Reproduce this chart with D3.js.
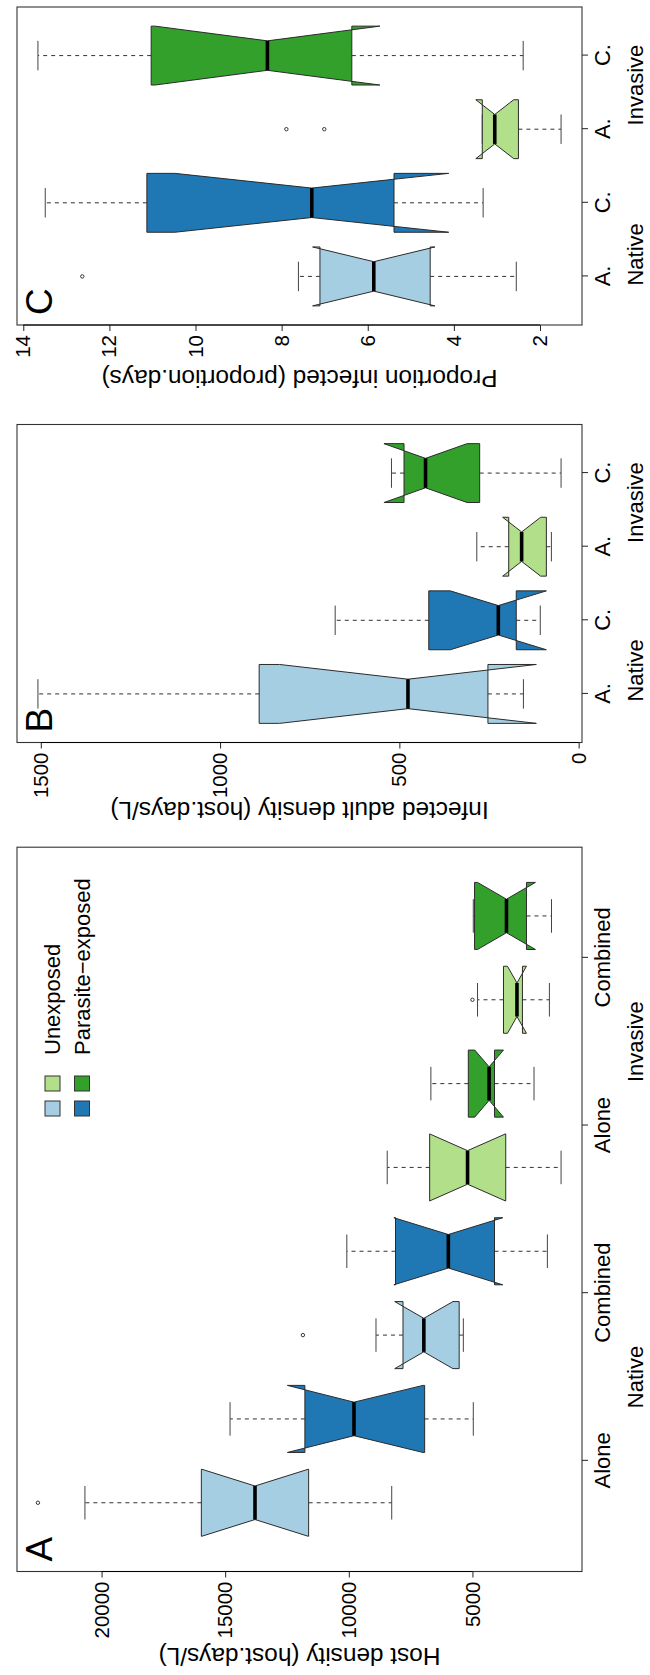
<!DOCTYPE html>
<html>
<head>
<meta charset="utf-8">
<script src="https://cdn.jsdelivr.net/npm/d3@7"></script>
<style>
  body { margin: 0; background: #fff; }
  svg { display: block; }
</style>
</head>
<body>
<svg id="chart" width="650" height="1675"></svg>
<script>
// ---------- Panel A: host density (host.days/L) ----------
const aTickLabels = ["Alone", "Combined", "Alone", "Combined"];
const aGroups = ["Native", "Invasive"];
const aTicks = [5000, 10000, 15000, 20000];
const aLow     = [8265, 4966, 5369, 1970, 1416, 2510, 1888, 1803];
const aQ1      = [11625, 6933, 5537, 4108, 3654, 4108, 2978, 2816];
const aNotchLo = [11640, 7000, 5788, 3773, 3664, 3745, 2816, 2453];
const aMedian  = [13794, 9791, 6966, 5975, 5198, 4326, 3200, 3624];
const aNotchHi = [15948, 12483, 8144, 8177, 6732, 4907, 3584, 4795];
const aQ3      = [15964, 11777, 7809, 8112, 6731, 5168, 3745, 4915];
const aHigh    = [20672, 14803, 8901, 10081, 8447, 6681, 4794, 4966];
const aOut     = [[22573], [], [11857], [], [], [], [5000], []];

// ---------- Panel B: infected adult density (host.days/L) ----------
const bTickLabels = ["A.", "C.", "A.", "C."];
const bGroups = ["Native", "Invasive"];
const bTicks = [0, 500, 1000, 1500];
const bLow     = [154, 107, 76, 49];
const bQ1      = [253, 174, 90, 276];
const bNotchLo = [118, 90, 106, 311];
const bMedian  = [476, 224, 159, 427];
const bNotchHi = [834, 358, 212, 543];
const bQ3      = [891, 418, 195, 487];
const bHigh    = [1508, 679, 284, 522];
const bOut     = [[], [], [], []];

// ---------- Panel C: proportion infected (proportion.days) ----------
const cTickLabels = ["A.", "C.", "A.", "C."];
const cGroups = ["Native", "Invasive"];
const cTicks = [2, 4, 6, 8, 10, 12, 14];
const cLow     = [2.55, 3.32, 1.51, 2.39];
const cQ1      = [4.55, 5.39, 2.50, 6.37];
const cNotchLo = [4.44, 4.12, 2.61, 5.72];
const cMedian  = [5.86, 7.30, 3.05, 8.33];
const cNotchHi = [7.28, 10.48, 3.49, 10.94];
const cQ3      = [7.11, 11.13, 3.34, 11.03];
const cHigh    = [7.61, 13.49, 3.34, 13.66];
const cOut     = [[12.63], [], [7.89, 7.01], []];

// Legend entries and fills (Paired palette)
const legendLabels = ["Unexposed", "Parasite\u2212exposed"];
const lightBlue = "#A6CEE3", darkBlue = "#1F78B4", lightGreen = "#B2DF8A", darkGreen = "#33A02C";

const FONT = '"Liberation Sans", Arial, Helvetica, sans-serif';
const PAGE_H = 1675;
const plotTop = 17, plotBottom = 582;

const svg = d3.select("#chart");
svg.append("rect").attr("width", 650).attr("height", PAGE_H).attr("fill", "#fff");

// The figure is laid out in landscape and turned a quarter turn onto the page.
const fig = svg.append("g")
  .attr("transform", `translate(0,${PAGE_H}) rotate(-90)`)
  .style("font-family", FONT);

function drawPanel(p) {
  const n = p.median.length;
  const g = fig.append("g");

  // positions 1..n, with the usual 4% padding around the [0.5, n + 0.5] range
  const xpad = 0.04 * n;
  const x = d3.scaleLinear().domain([0.5 - xpad, n + 0.5 + xpad]).range([p.left, p.right]);

  const allVals = [...p.low, ...p.high, ...p.notchLo, ...p.notchHi, ...p.out.flat()];
  const [lo, hi] = d3.extent(allVals);
  const ypad = (hi - lo) * 0.04;
  const y = d3.scaleLinear().domain([lo - ypad, hi + ypad]).range([plotBottom, plotTop]);

  const hw = 0.4, nf = 0.5, staple = 0.2;
  const line = d3.line().x(d => x(d[0])).y(d => y(d[1]));

  p.median.forEach((m, i) => {
    const c = i + 1;
    const q1 = p.q1[i], q3 = p.q3[i], nLo = p.notchLo[i], nHi = p.notchHi[i];
    const pts = [
      [c - hw, q1], [c + hw, q1], [c + hw, nLo], [c + hw * nf, m], [c + hw, nHi],
      [c + hw, q3], [c - hw, q3], [c - hw, nHi], [c - hw * nf, m], [c - hw, nLo]
    ];
    g.append("path")
      .attr("d", line(pts) + "Z")
      .attr("fill", p.fills[i])
      .attr("stroke", "#2b2b2b")
      .attr("stroke-width", 1)
      .attr("stroke-linejoin", "miter");

    g.append("line")
      .attr("x1", x(c - hw * nf)).attr("x2", x(c + hw * nf))
      .attr("y1", y(m)).attr("y2", y(m))
      .attr("stroke", "#000").attr("stroke-width", 3.6);

    // whiskers
    [[q3, p.high[i]], [q1, p.low[i]]].forEach(([from, to]) => {
      if (from !== to) {
        g.append("line")
          .attr("x1", x(c)).attr("x2", x(c))
          .attr("y1", y(from)).attr("y2", y(to))
          .attr("stroke", "#333").attr("stroke-width", 1)
          .attr("stroke-dasharray", "4,4");
      }
      g.append("line")
        .attr("x1", x(c - staple)).attr("x2", x(c + staple))
        .attr("y1", y(to)).attr("y2", y(to))
        .attr("stroke", "#444").attr("stroke-width", 1);
    });

    p.out[i].forEach(v => {
      g.append("circle")
        .attr("cx", x(c)).attr("cy", y(v)).attr("r", 1.7)
        .attr("fill", "none").attr("stroke", "#222").attr("stroke-width", 0.9);
    });
  });

  // frame
  g.append("rect")
    .attr("x", p.left).attr("y", plotTop)
    .attr("width", p.right - p.left).attr("height", plotBottom - plotTop)
    .attr("fill", "none").attr("stroke", "#333").attr("stroke-width", 1.1);

  // value axis
  const yAxis = g.append("g")
    .attr("transform", `translate(${p.left},0)`)
    .call(d3.axisLeft(y).tickValues(p.ticks).tickFormat(d3.format("d"))
      .tickSize(6).tickSizeOuter(0).tickPadding(4));
  yAxis.select(".domain").remove();
  yAxis.append("line")
    .attr("y1", y(p.ticks[0])).attr("y2", y(p.ticks[p.ticks.length - 1]))
    .attr("stroke", "#000").attr("stroke-width", 1);
  yAxis.selectAll(".tick line").attr("stroke", "#222");
  yAxis.selectAll(".tick text")
    .attr("font-family", FONT).attr("font-size", 20.5).attr("fill", "#000");

  // category axis
  const xAxis = g.append("g")
    .attr("transform", `translate(0,${plotBottom})`)
    .call(d3.axisBottom(x).tickValues(p.tickAt).tickFormat((d, i) => p.tickLabels[i])
      .tickSize(6).tickSizeOuter(0));
  xAxis.select(".domain").remove();
  xAxis.selectAll(".tick line").attr("stroke", "#222");
  xAxis.selectAll(".tick text")
    .attr("y", 28).attr("dy", null)
    .attr("font-family", FONT).attr("font-size", 22).attr("fill", "#000");

  p.groups.forEach((name, i) => {
    g.append("text")
      .attr("x", x(p.groupAt[i])).attr("y", 643)
      .attr("text-anchor", "middle")
      .attr("font-size", 22)
      .text(name);
  });

  // axis title
  g.append("text")
    .attr("transform", `translate(${p.titleX},${(plotTop + plotBottom) / 2}) rotate(-90)`)
    .attr("text-anchor", "middle")
    .attr("font-size", 24.4)
    .text(p.title);

  // panel letter
  g.append("text")
    .attr("x", p.left + 10).attr("y", 52)
    .attr("font-size", 37)
    .text(p.letter);

  return g;
}

const panelA = drawPanel({
  letter: "A", title: "Host density (host.days/L)",
  left: 103.5, right: 827.8, titleX: 27,
  ticks: aTicks, tickAt: [1.5, 3.5, 5.5, 7.5], tickLabels: aTickLabels,
  groups: aGroups, groupAt: [2.5, 6.5],
  fills: [lightBlue, darkBlue, lightBlue, darkBlue, lightGreen, darkGreen, lightGreen, darkGreen],
  low: aLow, q1: aQ1, notchLo: aNotchLo, median: aMedian, notchHi: aNotchHi, q3: aQ3, high: aHigh, out: aOut
});

drawPanel({
  letter: "B", title: "Infected adult density (host.days/L)",
  left: 932.5, right: 1250.5, titleX: 873,
  ticks: bTicks, tickAt: [1, 2, 3, 4], tickLabels: bTickLabels,
  groups: bGroups, groupAt: [1.32, 3.6],
  fills: [lightBlue, darkBlue, lightGreen, darkGreen],
  low: bLow, q1: bQ1, notchLo: bNotchLo, median: bMedian, notchHi: bNotchHi, q3: bQ3, high: bHigh, out: bOut
});

drawPanel({
  letter: "C", title: "Proportion infected (proportion.days)",
  left: 1350, right: 1668, titleX: 1305,
  ticks: cTicks, tickAt: [1, 2, 3, 4], tickLabels: cTickLabels,
  groups: cGroups, groupAt: [1.3, 3.6],
  fills: [lightBlue, darkBlue, lightGreen, darkGreen],
  low: cLow, q1: cQ1, notchLo: cNotchLo, median: cMedian, notchHi: cNotchHi, q3: cQ3, high: cHigh, out: cOut
});

// legend inside panel A: native / invasive swatches for each treatment
const legendRows = [
  { label: legendLabels[0], fills: [lightBlue, lightGreen] },
  { label: legendLabels[1], fills: [darkBlue, darkGreen] }
];
const legend = panelA.append("g");
legendRows.forEach((row, r) => {
  const top = 45 + r * 29.5;
  row.fills.forEach((f, k) => {
    legend.append("rect")
      .attr("x", 559 + k * 25).attr("y", top)
      .attr("width", 15).attr("height", 15)
      .attr("fill", f).attr("stroke", "#333").attr("stroke-width", 1);
  });
  legend.append("text")
    .attr("x", 620).attr("y", top + 15)
    .attr("font-size", 22)
    .text(row.label);
});
</script>
</body>
</html>
